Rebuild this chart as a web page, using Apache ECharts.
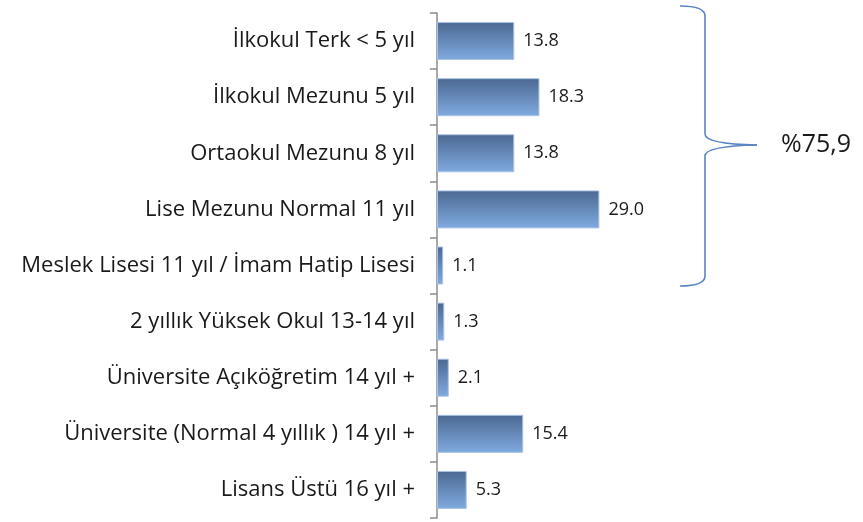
<!DOCTYPE html>
<html>
<head>
<meta charset="utf-8">
<script src="https://cdn.jsdelivr.net/npm/echarts@6/dist/echarts.min.js"></script>
<style>
  html, body { margin:0; padding:0; background:#fff; }
  #main { width:863px; height:522px; }
</style>
</head>
<body>
<div id="main"></div>
<script>
var categories = [
    'İlkokul Terk < 5 yıl',
    'İlkokul Mezunu 5 yıl',
    'Ortaokul Mezunu 8 yıl',
    'Lise Mezunu Normal 11 yıl',
    'Meslek Lisesi 11 yıl / İmam Hatip Lisesi',
    '2 yıllık Yüksek Okul 13-14 yıl',
    'Üniversite Açıköğretim 14 yıl +',
    'Üniversite (Normal 4 yıllık ) 14 yıl +',
    'Lisans Üstü 16 yıl +'
];
var values = [13.8, 18.3, 13.8, 29.0, 1.1, 1.3, 2.1, 15.4, 5.3];
var braceLabel = '%75,9';

// brace drawn as decoration next to the first five bars
var braceStyle = { fill: null, stroke: '#5b84c4', lineWidth: 1.6 };
function curve(x1, y1, cx, cy, x2, y2) {
    return { type: 'bezierCurve', shape: { x1: x1, y1: y1, cpx1: cx, cpy1: cy, x2: x2, y2: y2 }, style: braceStyle };
}
function seg(x1, y1, x2, y2) {
    return { type: 'line', shape: { x1: x1, y1: y1, x2: x2, y2: y2 }, style: braceStyle };
}

var myChart = echarts.init(document.getElementById('main'));
var option = {
    animation: false,
    grid: { left: 437, right: 258, top: 13, bottom: 4 },
    xAxis: {
        type: 'value',
        min: 0,
        max: 30,
        show: false
    },
    yAxis: {
        type: 'category',
        inverse: true,
        data: categories,
        axisLine: { show: true, lineStyle: { color: '#8c8c8c', width: 1.5 } },
        axisTick: { show: true, length: 7, alignWithLabel: false, lineStyle: { color: '#8c8c8c', width: 1.5 } },
        axisLabel: {
            margin: 22,
            fontSize: 22,
            fontFamily: 'Open Sans',
            color: '#1a1a1a'
        }
    },
    series: [{
        type: 'bar',
        data: values,
        barWidth: 38,
        itemStyle: {
            color: {
                type: 'linear', x: 0, y: 0, x2: 0, y2: 1,
                colorStops: [
                    { offset: 0, color: '#4b6892' },
                    { offset: 1, color: '#80abe0' }
                ]
            },
            borderColor: '#a9c3e6',
            borderWidth: 1
        },
        label: {
            show: true,
            position: 'right',
            distance: 9,
            fontSize: 18,
            fontFamily: 'Open Sans',
            color: '#1a1a1a',
            formatter: function (p) { return p.value.toFixed(1); }
        }
    }],
    graphic: [
        curve(680, 6, 705, 6, 705, 16),
        seg(705, 16, 705, 134),
        curve(705, 134, 705, 144, 757, 145),
        curve(757, 145, 705, 146, 705, 156),
        seg(705, 156, 705, 276),
        curve(705, 276, 705, 286, 680, 286),
        {
            type: 'text',
            x: 781,
            y: 145,
            style: {
                text: braceLabel,
                fontSize: 25,
                fontFamily: 'Open Sans',
                fill: '#1a1a1a',
                verticalAlign: 'middle'
            }
        }
    ]
};
myChart.setOption(option);
</script>
</body>
</html>
